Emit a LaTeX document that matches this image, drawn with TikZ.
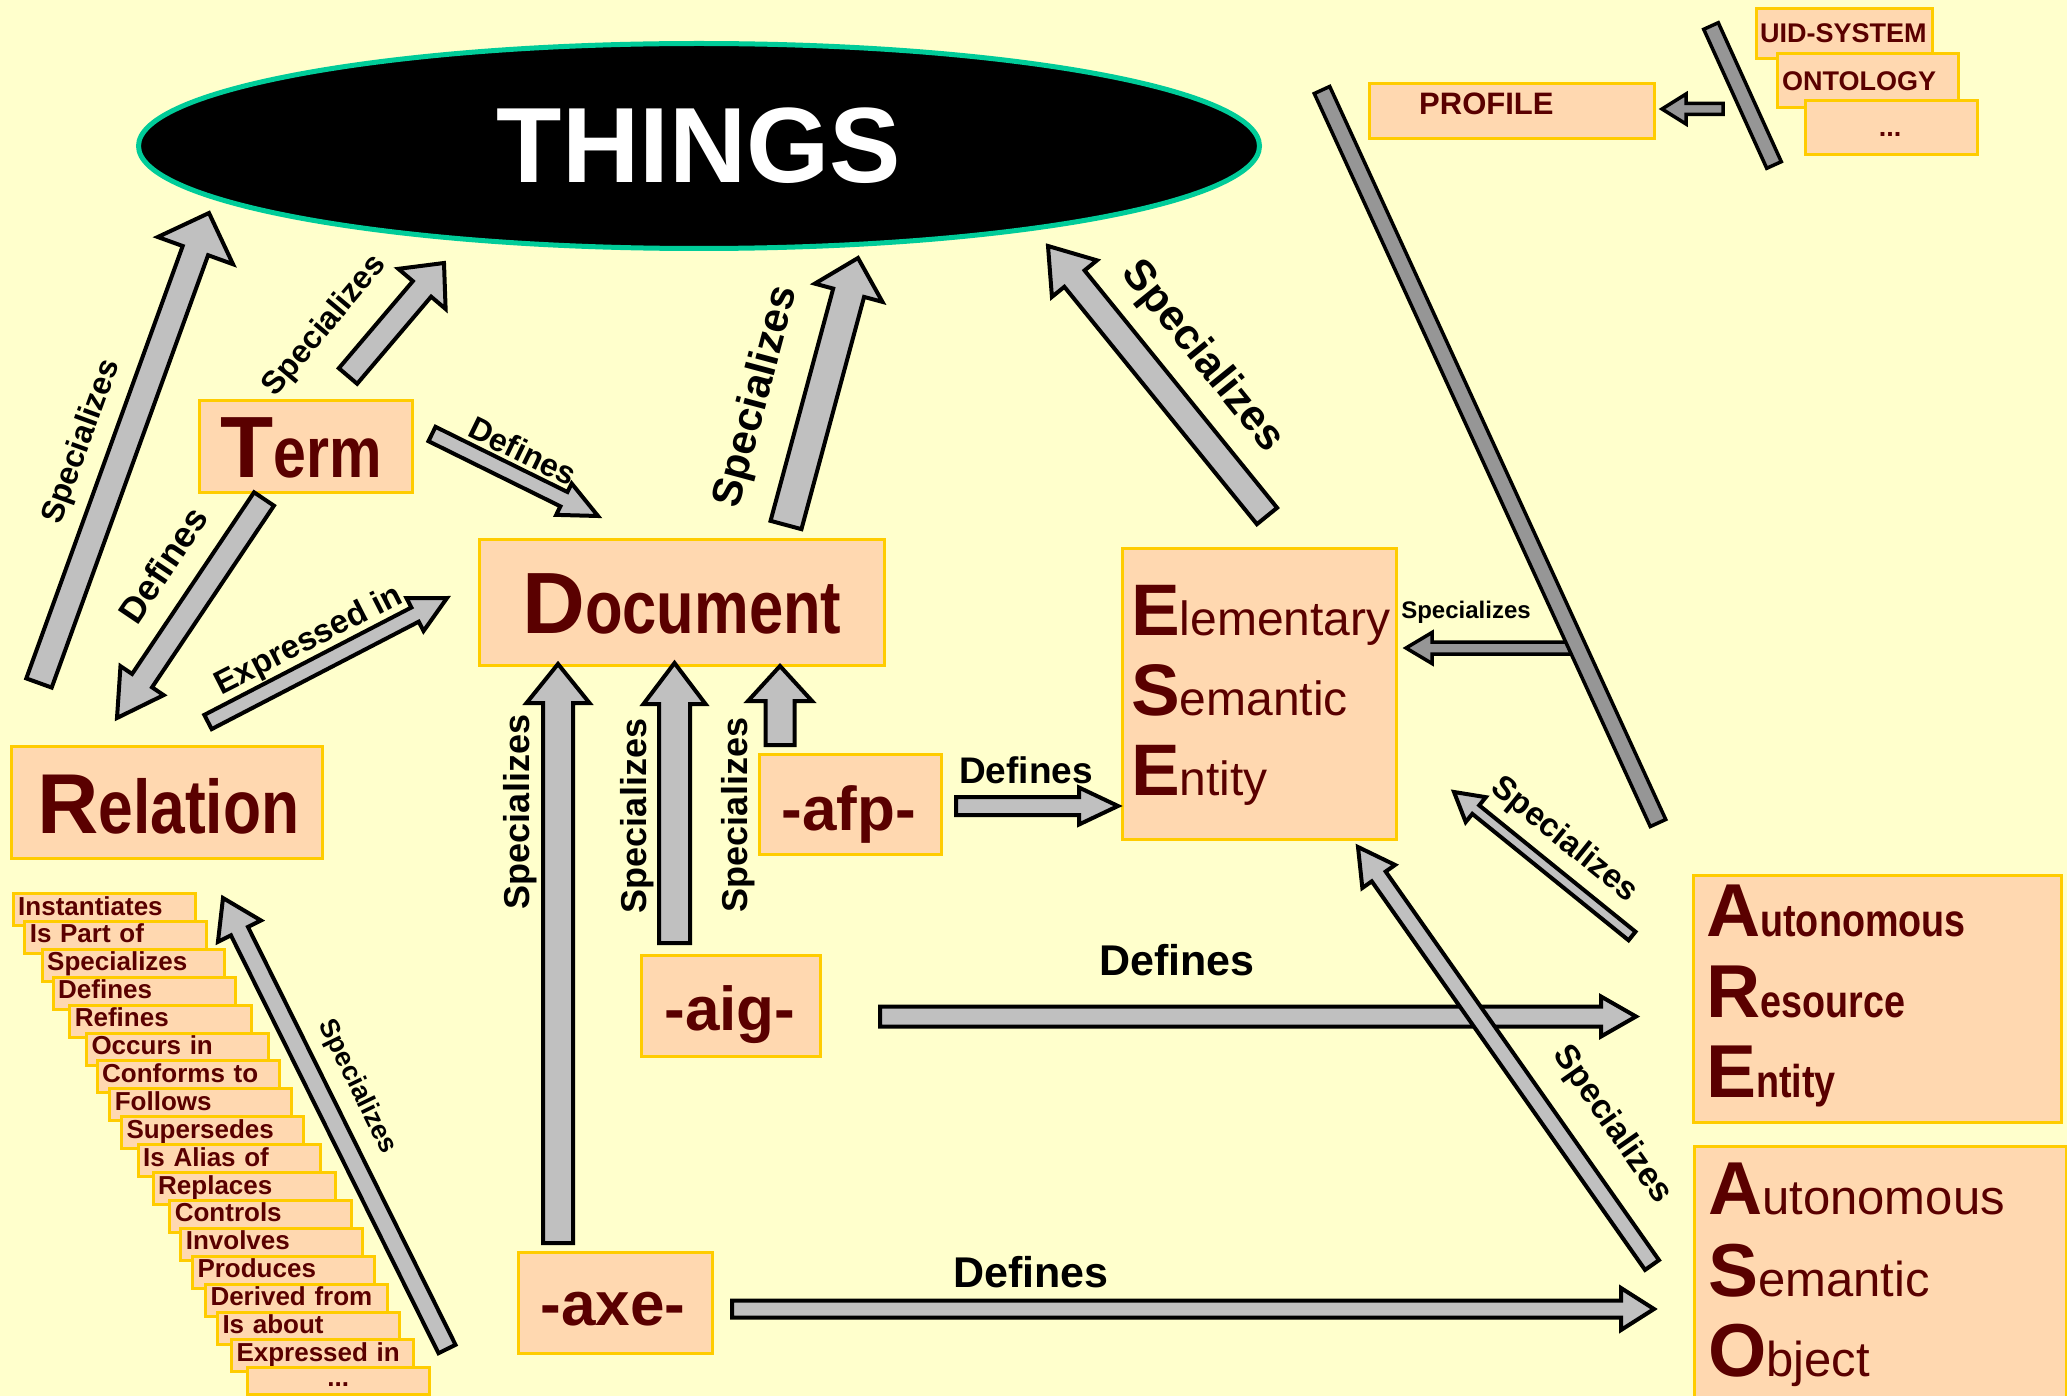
\documentclass[tikz,border=0pt]{standalone}
\usepackage{fontspec}
\setmainfont{Liberation Sans}
\newfontfamily\narrowfont[FakeStretch=0.82]{Liberation Sans}
\usetikzlibrary{calc,shapes.geometric}

\definecolor{bgyellow}{RGB}{255,255,204}
\definecolor{boxfill}{RGB}{255,216,176}
\definecolor{boxgold}{RGB}{255,204,0}
\definecolor{darkred}{RGB}{90,0,0}
\definecolor{agray}{RGB}{192,192,192}
\definecolor{dgray}{RGB}{150,150,150}
\definecolor{thgreen}{RGB}{0,204,153}

\newcommand{\fsz}[1]{\fontsize{#1}{#1}\selectfont}

% block arrow: [style] {tail} {tip} {shaft half width} {head half width} {head length}
\newcommand{\fatarrow}[6][]{%
  \coordinate (fa-tail) at (#2);
  \coordinate (fa-tip) at (#3);
  \coordinate (fa-neck) at ($(fa-tip)!#6pt!(fa-tail)$);
  \draw[fatarrow,#1]
    ($(fa-tail)!#4pt!90:(fa-tip)$) -- ($(fa-neck)!#4pt!90:(fa-tip)$) --
    ($(fa-neck)!#5pt!90:(fa-tip)$) -- (fa-tip) --
    ($(fa-neck)!#5pt!-90:(fa-tip)$) -- ($(fa-neck)!#4pt!-90:(fa-tip)$) --
    ($(fa-tail)!#4pt!-90:(fa-tip)$) -- cycle;
}
% flat bar between two points: [style] {end} {end} {half width}
\newcommand{\fatbar}[4][]{%
  \draw[fatbar,#1]
    ($(#2)!#4pt!90:(#3)$) -- ($(#3)!#4pt!-90:(#2)$) --
    ($(#3)!#4pt!90:(#2)$) -- ($(#2)!#4pt!-90:(#3)$) -- cycle;
}

\tikzset{
  fatarrow/.style={fill=agray, draw=black, line width=4pt, line join=miter},
  darkarrow/.style={fill=dgray, line width=3.5pt},
  fatbar/.style={fill=dgray, draw=black, line width=3.5pt, line join=miter},
  mainbox/.style={fill=boxfill, draw=boxgold, line width=3pt, inner sep=0pt, anchor=north west},
  boxtext/.style={inner sep=0pt, anchor=base west, text=darkred},
  lbl/.style={inner sep=0pt, font=\bfseries\fsz{#1}, text=black},
  listbox/.style={fill=boxfill, draw=boxgold, line width=3pt, anchor=north west,
    minimum height=32pt, text width=172pt, inner xsep=5pt, inner ysep=0pt,
    align=left, font=\bfseries\fsz{26}, text=darkred},
}

\begin{document}
\begin{tikzpicture}[x=1pt,y=-1pt]
\useasboundingbox (0,0) rectangle (2067,1396);
\fill[bgyellow] (0,0) rectangle (2067,1396);

% ---------- top ellipse ----------
\node[ellipse, fill=black, draw=thgreen, line width=5pt, minimum width=1121pt,
      minimum height=205pt, inner sep=0pt, text=white, font=\bfseries\fsz{107}]
      (things) at (699,146) {THINGS};

% ---------- main boxes ----------
\node[mainbox, minimum width=213pt, minimum height=92pt] (term) at (198,399) {};
\node[boxtext] (termtxt) at (220,477) {\bfseries\fsz{87}T{\narrowfont\fsz{72}erm}};

\node[mainbox, minimum width=405pt, minimum height=126pt] (doc) at (478,538) {};
\node[boxtext] (doctxt) at (522,633) {\bfseries\fsz{87}D{\narrowfont\fsz{75}ocument}};

\node[mainbox, minimum width=311pt, minimum height=112pt] (rel) at (10,745) {};
\node[boxtext] (reltxt) at (37,833) {\bfseries\fsz{85}R{\narrowfont\fsz{76}elation}};

\node[mainbox, minimum width=274pt, minimum height=291pt] (ese) at (1121,547) {};
\node[boxtext] (ese1) at (1131,635) {{\bfseries\fsz{73}E}{\fsz{48}lementary}};
\node[boxtext] (ese2) at (1131,715) {{\bfseries\fsz{73}S}{\fsz{48}emantic}};
\node[boxtext] (ese3) at (1131,795) {{\bfseries\fsz{73}E}{\fsz{48}ntity}};

\node[mainbox, minimum width=182pt, minimum height=100pt] (afp) at (758,753) {};
\node[boxtext, anchor=base] (afptxt) at (849,830) {\bfseries\fsz{62}-afp-};

\node[mainbox, minimum width=179pt, minimum height=101pt] (aig) at (640,954) {};
\node[boxtext, anchor=base] (aigtxt) at (730,1030) {\bfseries\fsz{62}-aig-};

\node[mainbox, minimum width=194pt, minimum height=101pt] (axe) at (517,1251) {};
\node[boxtext, anchor=base] (axetxt) at (613,1325) {\bfseries\fsz{62}-axe-};

\node[mainbox, minimum width=368pt, minimum height=247pt] (are) at (1692,874) {};
\node[boxtext] (are1) at (1706,936) {\bfseries{\fsz{75}A}{\narrowfont\fsz{46}utonomous}};
\node[boxtext] (are2) at (1706,1017) {\bfseries{\fsz{75}R}{\narrowfont\fsz{46}esource}};
\node[boxtext] (are3) at (1706,1097) {\bfseries{\fsz{75}E}{\narrowfont\fsz{46}ntity}};

\node[mainbox, minimum width=372pt, minimum height=270pt] (aso) at (1693,1145) {};
\node[boxtext] (aso1) at (1708,1214) {{\bfseries\fsz{75}A}{\fsz{49}utonomous}};
\node[boxtext] (aso2) at (1708,1296) {{\bfseries\fsz{75}S}{\fsz{49}emantic}};
\node[boxtext] (aso3) at (1708,1376) {{\bfseries\fsz{75}O}{\fsz{49}bject}};

% ---------- top-right cluster ----------
\node[mainbox, minimum width=285pt, minimum height=55pt] (profile) at (1368,82) {};
\node[boxtext] (proftxt) at (1419,115) {\bfseries\fsz{31}PROFILE};
\node[mainbox, minimum width=176pt, minimum height=50pt] (uid) at (1755,7) {};
\node[boxtext] (uidtxt) at (1760,43) {\bfseries\fsz{27}UID-SYSTEM};
\node[mainbox, minimum width=181pt, minimum height=54pt] (onto) at (1776,52) {};
\node[boxtext] (ontotxt) at (1782,91) {\bfseries\fsz{27}ONTOLOGY};
\node[mainbox, minimum width=172pt, minimum height=54pt] (more) at (1804,99) {};
\node[boxtext, anchor=base] (moretxt) at (1890,137) {\bfseries\fsz{27}...};

% ---------- relation list ----------
\foreach \xl/\txt [count=\i from 0] in {11.7/Instantiates, 23.3/Is Part of,
    40.7/Specializes, 51.7/Defines, 68.3/Refines, 85/Occurs in, 95.7/Conforms to,
    108.3/Follows, 120/Supersedes, 136.7/Is Alias of, 151.7/Replaces,
    168.3/Controls, 179.3/Involves, 191/Produces, 204/Derived from,
    216/Is about, 230/Expressed in} {
  \node[listbox] (rl\i) at (\xl, 892+27.9*\i) {\strut\txt};
}
\node[listbox, minimum height=27pt, align=center] (rl17) at (245.7, 892+27.9*17) {\strut...};

% ---------- arrow end points ----------
\coordinate (a1s) at (39,683);    \coordinate (a1e) at (209,213);
\coordinate (a2s) at (348,376);   \coordinate (a2e) at (444,263);
\coordinate (a3s) at (264,499);   \coordinate (a3e) at (117,718);
\coordinate (a4s) at (208,722);   \coordinate (a4e) at (447,598);
\coordinate (a5s) at (432,434);   \coordinate (a5e) at (598,516);
\coordinate (a6s) at (786,525);   \coordinate (a6e) at (858,258);
\coordinate (a7s) at (1267,516);  \coordinate (a7e) at (1048,246);
\coordinate (a8s) at (558,1243);  \coordinate (a8e) at (558,664);
\coordinate (a9s) at (674.5,943); \coordinate (a9e) at (674.5,663);
\coordinate (a10s) at (780,745);  \coordinate (a10e) at (780,666);
\coordinate (a11s) at (956,806);  \coordinate (a11e) at (1118,806);
\coordinate (a12s) at (880,1016.5); \coordinate (a12e) at (1636,1016.5);
\coordinate (a13s) at (732,1309); \coordinate (a13e) at (1654,1309);
\coordinate (a14s) at (447,1349); \coordinate (a14e) at (223,898);
\coordinate (a15s) at (1632,936); \coordinate (a15e) at (1454,792);
\coordinate (a16s) at (1652,1265); \coordinate (a16e) at (1358,847);
\coordinate (a17s) at (1723,109); \coordinate (a17e) at (1662,109);
\coordinate (a18s) at (1574,648); \coordinate (a18e) at (1406,648);
\coordinate (b1s) at (1322,90);   \coordinate (b1e) at (1658,823);
\coordinate (b2s) at (1711,26);   \coordinate (b2e) at (1774,165);

% ---------- arrows ----------
\fatarrow{a1s}{a1e}{13.5}{40}{40}
\fatarrow{a2s}{a2e}{12}{31}{34}
\fatarrow{a3s}{a3e}{12}{26}{45}
\fatarrow{a4s}{a4e}{8}{18.5}{36}
\fatarrow{a5s}{a5e}{8}{17.5}{38}
\fatarrow{a6s}{a6e}{16}{35}{36}
\fatarrow{a7s}{a7e}{13}{29}{42}
\fatarrow{a8s}{a8e}{15}{31.5}{39}
\fatarrow{a9s}{a9e}{15.5}{31}{41}
\fatarrow{a10s}{a10e}{14.5}{32}{35}
\fatarrow{a11s}{a11e}{9}{18.5}{39}
\fatarrow{a12s}{a12e}{10}{20}{35}
\fatarrow{a13s}{a13e}{8.5}{21}{33}
\fatarrow{a14s}{a14e}{9.5}{24}{37}
\fatarrow{a15s}{a15e}{5.5}{16}{28}
\fatarrow{a16s}{a16e}{8.5}{20}{36}
\fatarrow[darkarrow]{a17s}{a17e}{5.5}{15}{24}
\fatarrow[darkarrow]{a18s}{a18e}{6}{15.5}{26}
\fatbar{b1s}{b1e}{8.5}
\fatbar{b2s}{b2e}{8}

% ---------- arrow labels ----------
\node[lbl=32, rotate=70]  (l1)  at (82,442)   {Specializes};
\node[lbl=32, rotate=50]  (l2)  at (325,326)  {Specializes};
\node[lbl=36, rotate=56]  (l3)  at (163,565)  {Defines};
\node[lbl=33, rotate=27]  (l4)  at (309,641)  {Expressed in};
\node[lbl=32, rotate=-26] (l5)  at (523,451)  {Defines};
\node[lbl=42, rotate=75]  (l6)  at (757,397)  {Specializes};
\node[lbl=43, rotate=-51] (l7)  at (1202,357) {Specializes};
\node[lbl=36, rotate=90]  (l8)  at (520,812)  {Specializes};
\node[lbl=36, rotate=90]  (l9)  at (637,816)  {Specializes};
\node[lbl=36, rotate=90]  (l10) at (738,815)  {Specializes};
\node[lbl=37]             (l11) at (1026,770) {Defines};
\node[lbl=43]             (l12) at (1177,960) {Defines};
\node[lbl=43, anchor=base] (l13) at (1031,1287) {Defines};
\node[lbl=27, rotate=-64] (l14) at (357,1087) {Specializes};
\node[lbl=33, rotate=-39] (l15) at (1564,840) {Specializes};
\node[lbl=34, rotate=-55] (l16) at (1612,1125) {Specializes};
\node[lbl=24]             (l17) at (1466,612) {Specializes};
\end{tikzpicture}
\end{document}
